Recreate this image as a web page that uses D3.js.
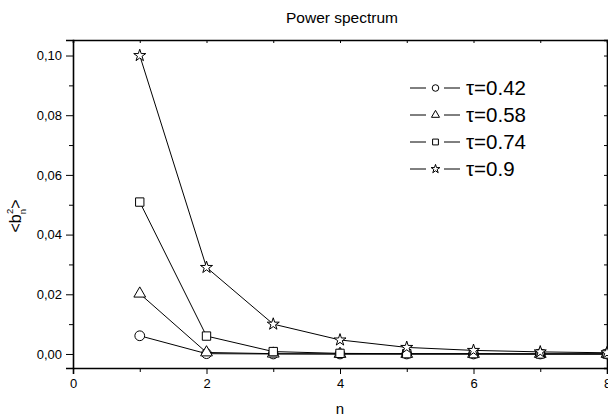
<!DOCTYPE html>
<html>
<head>
<meta charset="utf-8">
<script src="https://cdn.jsdelivr.net/npm/d3@7"></script>
<style>
  body { margin: 0; background: #fff; }
  text { font-family: "Liberation Sans", Arial, sans-serif; fill: #000; }
</style>
</head>
<body>
<div id="chart"></div>
<script>
// values
var nValues = [1, 2, 3, 4, 5, 6, 7, 8];
var tau042 = [0.0061, 0.0001, 0.0000, 0.0000, 0.0000, 0.0000, 0.0000, 0.0000];
var tau058 = [0.0202, 0.0005, 0.0001, 0.0000, 0.0000, 0.0000, 0.0000, 0.0000];
var tau074 = [0.0509, 0.0060, 0.0008, 0.0002, 0.0001, 0.0001, 0.0000, 0.0000];
var tau090 = [0.1000, 0.0290, 0.0100, 0.0047, 0.0022, 0.0012, 0.0007, 0.0004];
var seriesNames = ["\u03c4=0.42", "\u03c4=0.58", "\u03c4=0.74", "\u03c4=0.9"];
var xMajorTicks = [0, 2, 4, 6, 8];
var xMinorTicks = [1, 3, 5, 7];
var yMajorTicks = [0, 0.02, 0.04, 0.06, 0.08, 0.10];
var yMinorTicks = [0.01, 0.03, 0.05, 0.07, 0.09];

var width = 608, height = 417;
var margin = { top: 40, right: 1, bottom: 49, left: 73 };

var svg = d3.select("#chart").append("svg")
    .attr("width", width)
    .attr("height", height);

var x = d3.scaleLinear()
    .domain([0, 8])
    .range([margin.left, width - margin.right]);

var y = d3.scaleLinear()
    .domain([-0.0047, 0.1052])
    .range([height - margin.bottom, margin.top]);

var commaFmt = function(d) { return d3.format(".2f")(d).replace(".", ","); };

// axes
var bottomY = height - margin.bottom;

svg.append("g")
    .attr("transform", "translate(0," + bottomY + ")")
    .call(d3.axisBottom(x).tickValues(xMajorTicks).tickSize(6).tickPadding(5).tickFormat(d3.format("d")))
    .call(function(g) { g.selectAll("text").style("font-size", "13px"); });

svg.append("g")
    .attr("transform", "translate(0," + bottomY + ")")
    .call(d3.axisBottom(x).tickValues(xMinorTicks).tickSize(4).tickFormat(""))
    .call(function(g) { g.select(".domain").remove(); });

svg.append("g")
    .attr("transform", "translate(" + margin.left + ",0)")
    .call(d3.axisLeft(y).tickValues(yMajorTicks).tickSize(7).tickPadding(4).tickFormat(commaFmt))
    .call(function(g) { g.selectAll("text").style("font-size", "13px"); });

svg.append("g")
    .attr("transform", "translate(" + margin.left + ",0)")
    .call(d3.axisLeft(y).tickValues(yMinorTicks).tickSize(4).tickFormat(""))
    .call(function(g) { g.select(".domain").remove(); });

// top and right frame with inward ticks
svg.append("g")
    .attr("transform", "translate(0," + margin.top + ")")
    .call(d3.axisTop(x).tickValues(d3.range(0, 9)).tickSize(-3).tickFormat(""));

svg.append("g")
    .attr("transform", "translate(" + (width - margin.right) + ",0)")
    .call(d3.axisRight(y).tickValues(yMajorTicks.concat(yMinorTicks)).tickSize(-3).tickFormat(""));

svg.selectAll(".domain").attr("stroke-width", 1.6);
svg.selectAll(".tick line").attr("stroke-width", 1);

// titles
svg.append("text")
    .attr("x", 342)
    .attr("y", 23)
    .attr("text-anchor", "middle")
    .style("font-size", "15.5px")
    .text("Power spectrum");

svg.append("text")
    .attr("x", x(4))
    .attr("y", 414)
    .attr("text-anchor", "middle")
    .style("font-size", "15px")
    .text("n");

var yLab = svg.append("text")
    .attr("transform", "translate(21,216) rotate(-90)")
    .attr("text-anchor", "middle")
    .style("font-size", "16px");
yLab.append("tspan").text("<b");
yLab.append("tspan").attr("dy", 5).style("font-size", "9.5px").text("n");
yLab.append("tspan").attr("dx", -5).attr("dy", -13).style("font-size", "9.5px").text("2");
yLab.append("tspan").attr("dy", 8).text(">");

// series
var series = [
  { name: seriesNames[0], values: tau042, symbol: d3.symbolCircle, size: 75, legendSize: 34 },
  { name: seriesNames[1], values: tau058, symbol: d3.symbolTriangle, size: 60, legendSize: 28 },
  { name: seriesNames[2], values: tau074, symbol: d3.symbolSquare, size: 70, legendSize: 34 },
  { name: seriesNames[3], values: tau090, symbol: d3.symbolStar, size: 45, legendSize: 24 }
];

var line = d3.line()
    .x(function(d, i) { return x(nValues[i]); })
    .y(function(d) { return y(d); });

series.forEach(function(s) {
  var g = svg.append("g");
  g.append("path")
      .attr("d", line(s.values))
      .attr("fill", "none")
      .attr("stroke", "#000")
      .attr("stroke-width", 1);
  g.selectAll("path.pt")
      .data(s.values)
      .enter().append("path")
        .attr("class", "pt")
        .attr("transform", function(d, i) { return "translate(" + x(nValues[i]) + "," + y(d) + ")"; })
        .attr("d", d3.symbol().type(s.symbol).size(s.size))
        .attr("fill", "#fff")
        .attr("stroke", "#000")
        .attr("stroke-width", 1);
});

// legend: line, gap, symbol, gap, line
var legend = svg.append("g")
    .attr("transform", "translate(410,88)");

var row = legend.selectAll("g")
    .data(series)
    .enter().append("g")
      .attr("transform", function(d, i) { return "translate(0," + (i * 27) + ")"; });

row.append("line")
    .attr("x1", 0).attr("x2", 16)
    .attr("stroke", "#000");
row.append("line")
    .attr("x1", 34).attr("x2", 50)
    .attr("stroke", "#000");
row.append("path")
    .attr("transform", "translate(25.5,0)")
    .attr("d", function(d) { return d3.symbol().type(d.symbol).size(d.legendSize)(); })
    .attr("fill", "#fff")
    .attr("stroke", "#000");
row.append("text")
    .attr("x", 56)
    .attr("y", 7)
    .style("font-size", "20.5px")
    .text(function(d) { return d.name; });
</script>
</body>
</html>
